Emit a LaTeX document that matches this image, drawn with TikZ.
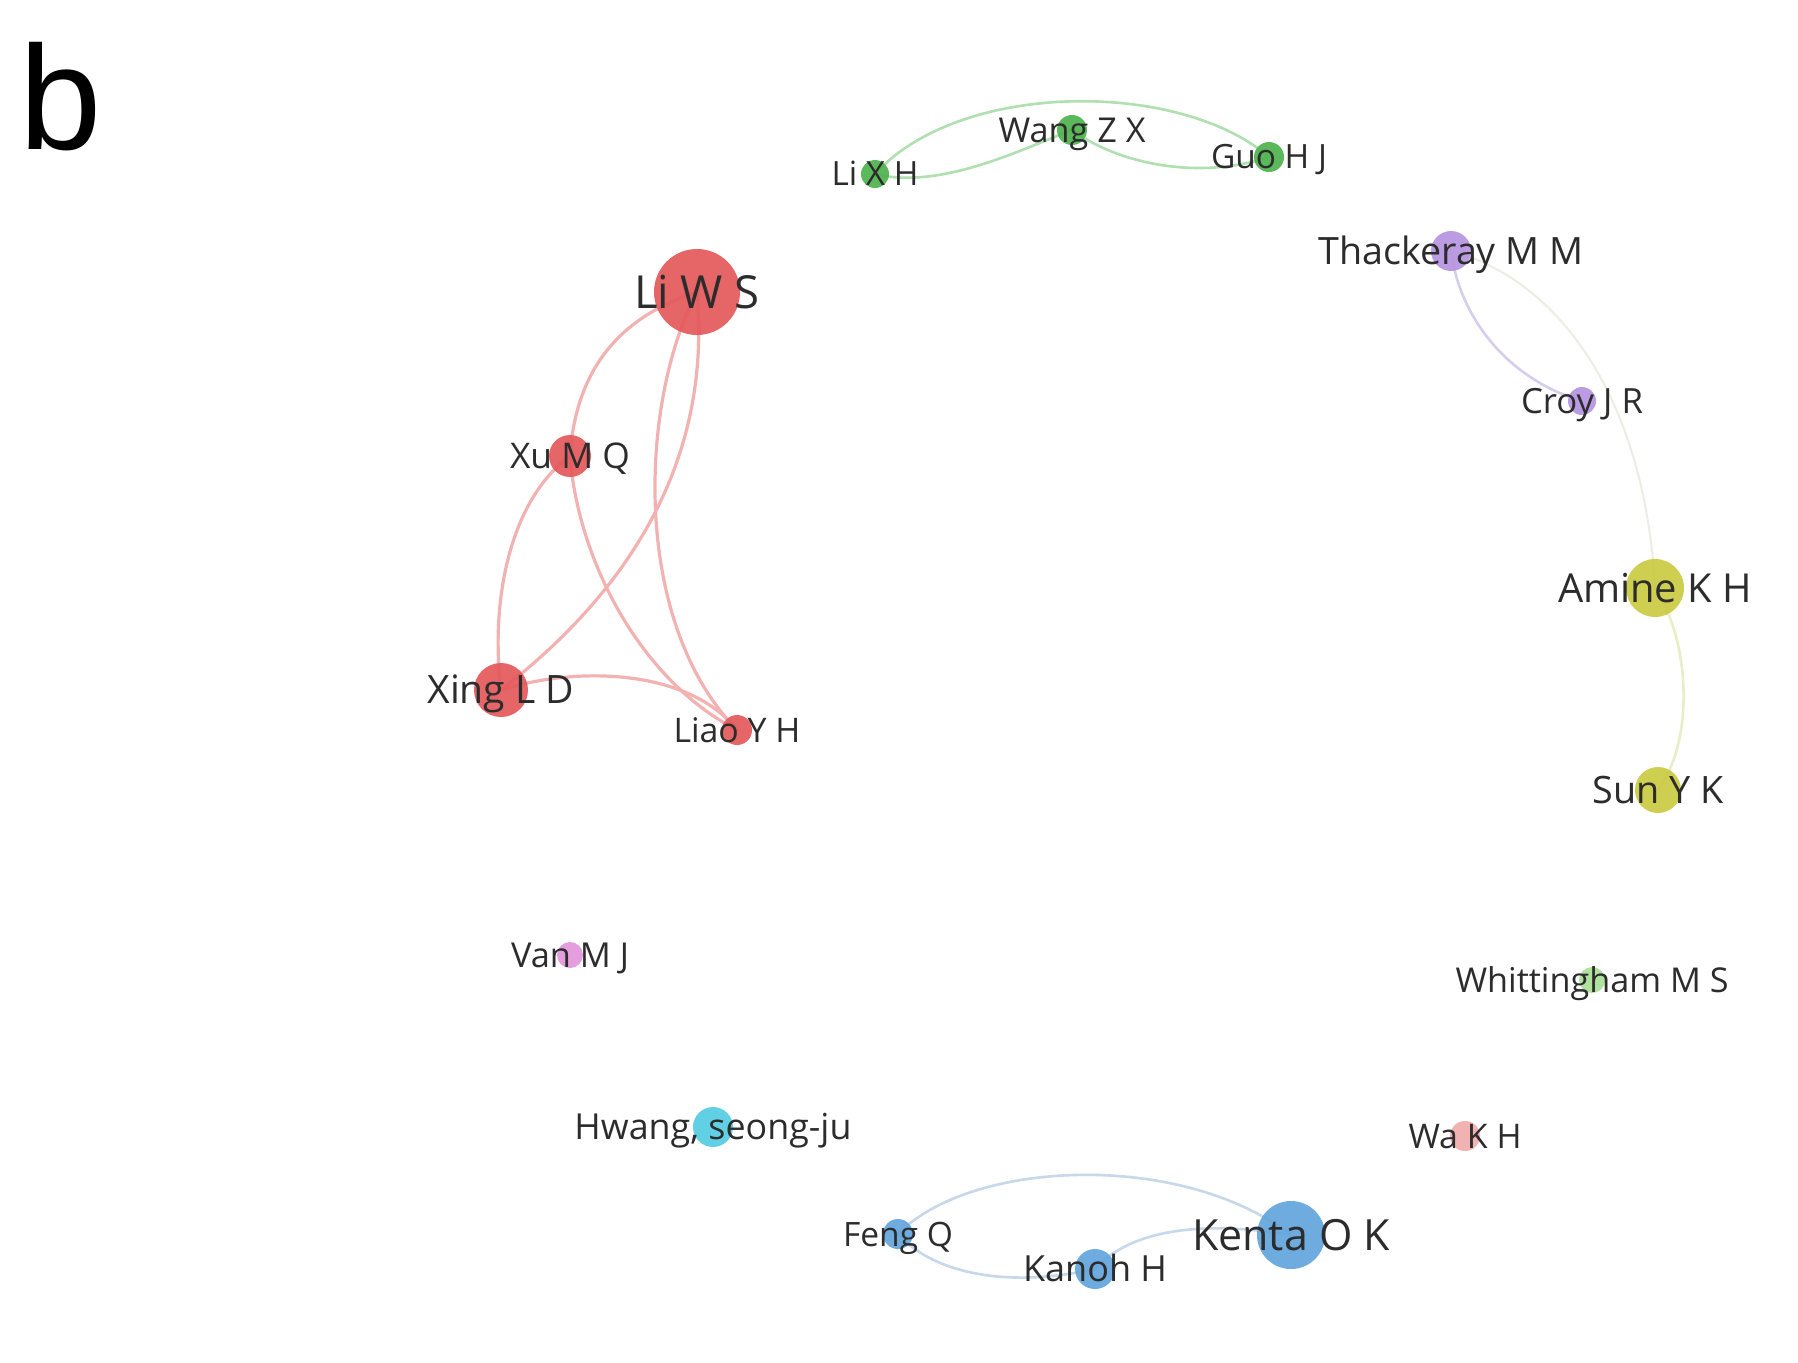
\documentclass[tikz,border=0pt]{standalone}
\usepackage{fontspec}
\setmainfont{Open Sans}
\newfontfamily\bfont{Liberation Sans}
\pgfdeclarelayer{bg}
\pgfdeclarelayer{edges}
\pgfsetlayers{bg,edges,main}
\definecolor{cred}{RGB}{228,88,90}
\definecolor{cgreen}{RGB}{78,178,78}
\definecolor{cpurple}{RGB}{182,148,224}
\definecolor{cyellow}{RGB}{202,202,66}
\definecolor{cpink}{RGB}{226,150,220}
\definecolor{ccyan}{RGB}{84,205,226}
\definecolor{clgreen}{RGB}{170,224,150}
\definecolor{csalmon}{RGB}{240,172,172}
\definecolor{cblue}{RGB}{98,164,220}
\definecolor{ered}{RGB}{243,178,178}
\definecolor{egreen}{RGB}{176,224,176}
\definecolor{epurple}{RGB}{214,206,236}
\definecolor{efaint}{RGB}{236,238,228}
\definecolor{eyellow}{RGB}{232,238,200}
\definecolor{eblue}{RGB}{198,216,234}
\definecolor{txt}{RGB}{44,44,44}
\newcommand\mylbl[2]{\resizebox{#1pt}{!}{\vphantom{H}\smash{#2}}}
\begin{document}
\begin{tikzpicture}[x=0.5pt,y=-0.5pt,
  dot/.style={circle,inner sep=0pt,draw=none,fill opacity=0.92},
  lbl/.style={inner sep=0pt,text=txt,anchor=center},
  edgeline/.style={line width=#1,line cap=round},
  edgeline/.default=1.3pt]
\begin{pgfonlayer}{bg}
\fill[white] (0,0) rectangle (1798,1362);
\end{pgfonlayer}
\useasboundingbox (0,0) rectangle (1798,1362);

\node[inner sep=0pt,anchor=base west,font=\bfont\fontsize{74}{74}\selectfont] (panel) at (19,149) {b};

% nodes
\node[dot,fill=cred,minimum size=43pt] (liws) at (697,292) {};
\node[dot,fill=cred,minimum size=21pt] (xumq) at (570,456) {};
\node[dot,fill=cred,minimum size=27pt] (xingld) at (501,690) {};
\node[dot,fill=cred,minimum size=15pt] (liaoyh) at (737,730) {};
\node[dot,fill=cgreen,minimum size=14pt] (lixh) at (875,174) {};
\node[dot,fill=cgreen,minimum size=15pt] (wangzx) at (1072,130) {};
\node[dot,fill=cgreen,minimum size=15pt] (guohj) at (1269,157) {};
\node[dot,fill=cpurple,minimum size=20pt] (thack) at (1451,251) {};
\node[dot,fill=cpurple,minimum size=14pt] (croy) at (1582,401) {};
\node[dot,fill=cyellow,minimum size=29pt] (amine) at (1655,588) {};
\node[dot,fill=cyellow,minimum size=23pt] (sunyk) at (1658,790) {};
\node[dot,fill=cpink,minimum size=13pt] (vanmj) at (570,955) {};
\node[dot,fill=ccyan,minimum size=20pt] (hwang) at (713,1127) {};
\node[dot,fill=clgreen,minimum size=13pt] (whit) at (1592,980) {};
\node[dot,fill=csalmon,minimum size=15pt] (wakh) at (1465,1136) {};
\node[dot,fill=cblue,minimum size=15pt] (fengq) at (898,1234) {};
\node[dot,fill=cblue,minimum size=20pt] (kanoh) at (1095,1269) {};
\node[dot,fill=cblue,minimum size=34pt] (kenta) at (1291,1235) {};

% labels
\node[lbl] (liws-t) at (liws) {\mylbl{63}{Li W S}};
\node[lbl] (xumq-t) at (xumq) {\mylbl{60}{Xu M Q}};
\node[lbl] (xingld-t) at (xingld) {\mylbl{73.5}{Xing L D}};
\node[lbl] (liaoyh-t) at (liaoyh) {\mylbl{63.5}{Liao Y H}};
\node[lbl] (lixh-t) at (lixh) {\mylbl{43.5}{Li X H}};
\node[lbl] (wangzx-t) at (wangzx) {\mylbl{73.5}{Wang Z X}};
\node[lbl] (guohj-t) at (guohj) {\mylbl{58}{Guo H J}};
\node[lbl] (thack-t) at (thack) {\mylbl{132.5}{Thackeray M M}};
\node[lbl] (croy-t) at (croy) {\mylbl{61}{Croy J R}};
\node[lbl] (amine-t) at (amine) {\mylbl{97}{Amine K H}};
\node[lbl] (sunyk-t) at (sunyk) {\mylbl{65.5}{Sun Y K}};
\node[lbl] (vanmj-t) at (vanmj) {\mylbl{59}{Van M J}};
\node[lbl] (hwang-t) at (hwang) {\mylbl{138.5}{Hwang, seong-ju}};
\node[lbl] (whit-t) at (whit) {\mylbl{136.5}{Whittingham M S}};
\node[lbl] (wakh-t) at (wakh) {\mylbl{56.5}{Wa K H}};
\node[lbl] (fengq-t) at (fengq) {\mylbl{55}{Feng Q}};
\node[lbl] (kanoh-t) at (kanoh) {\mylbl{72}{Kanoh H}};
\node[lbl] (kenta-t) at (kenta) {\mylbl{99}{Kenta O K}};

% edges
\begin{pgfonlayer}{edges}
\draw[edgeline=1.6pt,draw=ered] (liws.center) .. controls (610,320) and (575,380) .. (xumq.center);
\draw[edgeline=1.6pt,draw=ered] (liws.center) .. controls (712,460) and (630,590) .. (xingld.center);
\draw[edgeline=1.6pt,draw=ered] (liws.center) .. controls (640,400) and (630,620) .. (liaoyh.center);
\draw[edgeline=1.6pt,draw=ered] (xumq.center) .. controls (510,500) and (490,600) .. (xingld.center);
\draw[edgeline=1.6pt,draw=ered] (xumq.center) .. controls (578,560) and (640,680) .. (liaoyh.center);
\draw[edgeline=1.6pt,draw=ered] (xingld.center) .. controls (580,665) and (690,670) .. (liaoyh.center);
\draw[edgeline,draw=egreen] (lixh.center) .. controls (940,190) and (1020,150) .. (wangzx.center);
\draw[edgeline,draw=egreen] (wangzx.center) .. controls (1120,165) and (1200,180) .. (guohj.center);
\draw[edgeline,draw=egreen] (lixh.center) .. controls (960,80) and (1180,80) .. (guohj.center);
\draw[edgeline,draw=epurple] (thack.center) .. controls (1460,320) and (1510,380) .. (croy.center);
\draw[edgeline=1pt,draw=efaint] (thack.center) .. controls (1560,280) and (1645,400) .. (amine.center);
\draw[edgeline,draw=eyellow] (amine.center) .. controls (1690,640) and (1695,740) .. (sunyk.center);
\draw[edgeline,draw=eblue] (fengq.center) .. controls (970,1160) and (1180,1150) .. (kenta.center);
\draw[edgeline,draw=eblue] (fengq.center) .. controls (930,1270) and (1000,1290) .. (kanoh.center);
\draw[edgeline,draw=eblue] (kanoh.center) .. controls (1130,1230) and (1200,1220) .. (kenta.center);
\end{pgfonlayer}
\end{tikzpicture}
\end{document}
